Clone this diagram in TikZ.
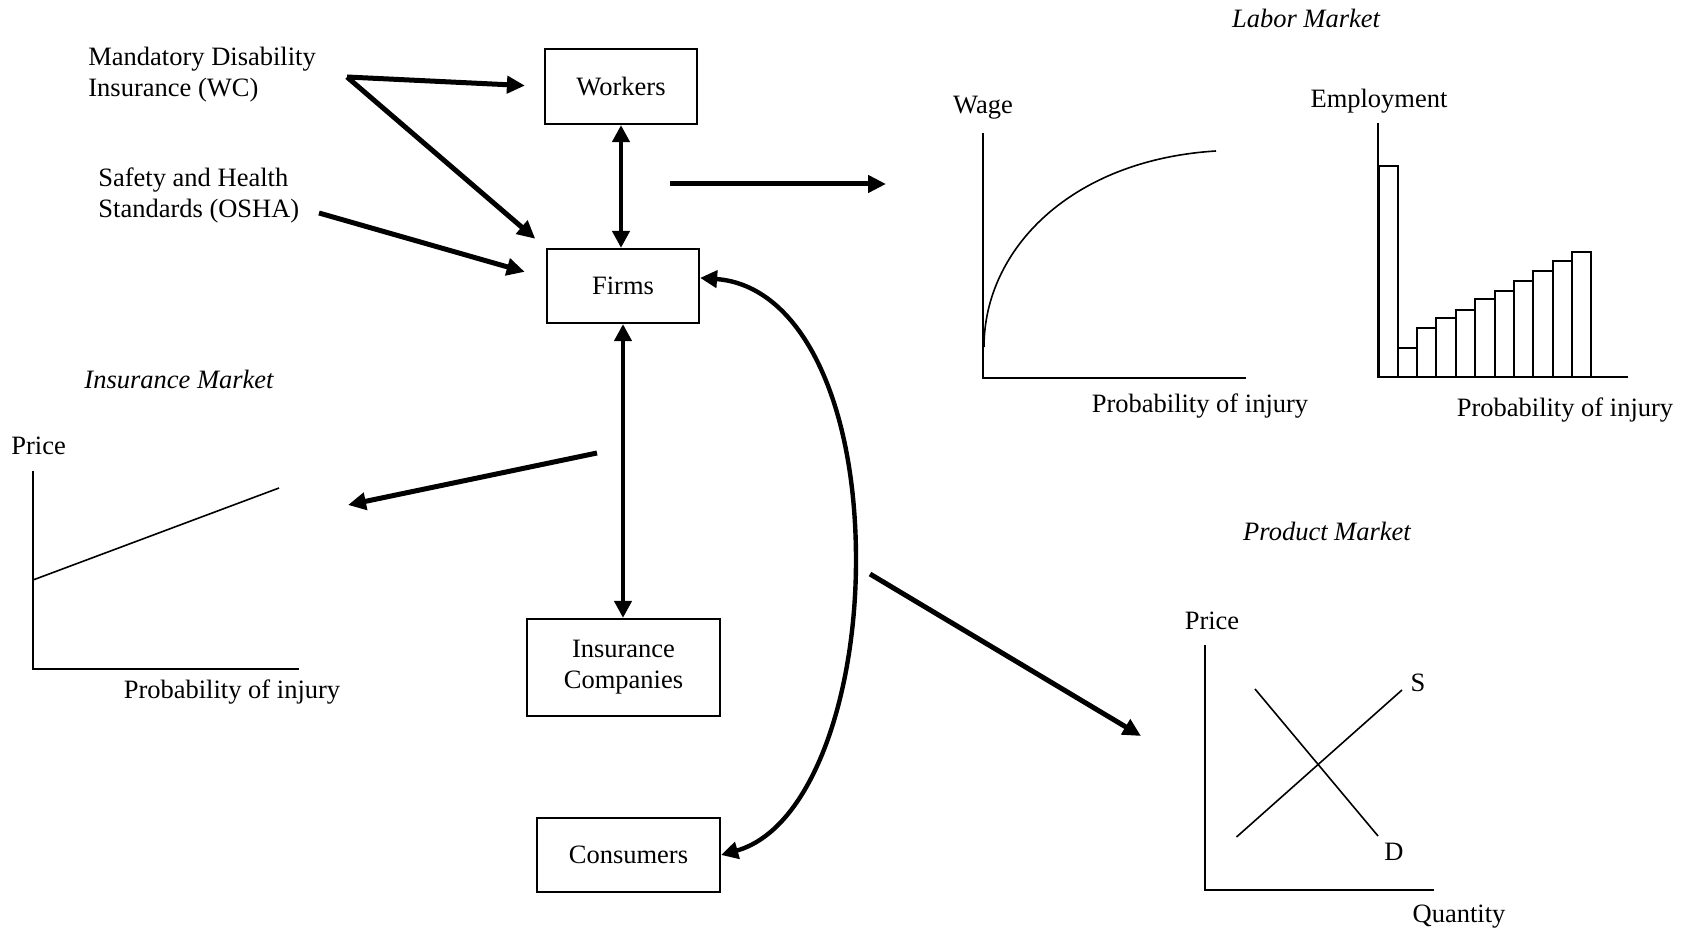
\documentclass[tikz,border=0pt]{standalone}
\usepackage{fontspec}
\setmainfont{Liberation Serif}
\usetikzlibrary{arrows.meta,calc}
\begin{document}
\begin{tikzpicture}[x=0.5pt,y=-0.5pt,
  every node/.style={font=\fontsize{13.25pt}{15.5pt}\selectfont, inner sep=0pt},
  lbl/.style={text height=0.68em, text depth=0.2em, yshift=-2.2pt},
  ttl/.style={lbl, font=\fontsize{13.25pt}{15.5pt}\selectfont\itshape},
  box/.style={draw, line width=1.1pt, align=center},
  conn/.style={line width=2.5pt, -{Triangle[length=9pt,width=8.5pt]}},
  dconn/.style={line width=2.2pt, {Triangle[length=8.5pt,width=8.5pt]}-{Triangle[length=8.5pt,width=8.5pt]}},
  axisline/.style={line width=1pt},
  plotline/.style={line width=0.8pt},
  barbox/.style={line width=1.1pt},
]
\useasboundingbox (0,0) rectangle (1688,930);

% boxes
\node[box, minimum width=76pt, minimum height=37.5pt] (W) at (621,86.5) {Workers};
\node[box, minimum width=76pt, minimum height=37pt] (F) at (623,286) {Firms};
\node[box, minimum width=96.5pt, minimum height=48.5pt] (I) at (623.5,667.5) {Insurance\\Companies};
\node[box, minimum width=91.5pt, minimum height=37pt] (C) at (628.5,855) {Consumers};

% policy texts
\node[align=left, anchor=west] (mdi) at (88,75) {Mandatory Disability\\Insurance (WC)};
\node[align=left, anchor=west] (osha) at (98,195) {Safety and Health\\Standards (OSHA)};

\coordinate (mdiout) at (347,77);
\coordinate (oshaout) at (319,213);
\coordinate (laborA) at (670,184);
\coordinate (laborB) at (886,184);
\coordinate (insA) at (597,453);
\coordinate (insB) at (348,505);
\coordinate (prodA) at (870,574);
\coordinate (prodB) at (1141,736);

% connectors
\draw[conn, shorten >=9.5pt] (mdiout) -- (W.west);
\draw[conn, shorten >=7pt] (mdiout) -- (F.north west);
\draw[conn, shorten >=11pt] (oshaout) -- (F.174);
\draw[dconn] (W.south) -- (W.south |- F.north);
\draw[dconn] (F.south) -- (F.south |- I.north);
\draw[conn] (laborA) -- (laborB);
\draw[conn] (insA) -- (insB);
\draw[conn] (prodA) -- (prodB);
\draw[dconn] (C.east) .. controls (810,830) and (856,700) .. (856,560)
  .. controls (856,400) and (800,285) .. (F.6);

% insurance market
\node[ttl] (insT) at (179,379) {Insurance Market};
\node[lbl, anchor=west] (insP) at (11,445) {Price};
\draw[axisline] (33,471) -- (33,669) -- (299,669);
\draw[plotline] (33,580) -- (279,488);
\node[lbl] (insX) at (232,689) {Probability of injury};

% labor market
\node[ttl] (labT) at (1306,18) {Labor Market};
\node[lbl] (wageL) at (983,104) {Wage};
\draw[axisline] (983,133) -- (983,378) -- (1246,378);
\draw[plotline] (984,347) .. controls (984,250) and (1070,160) .. (1216,151);
\node[lbl] (wageX) at (1200,403) {Probability of injury};

\node[lbl] (empL) at (1379,98) {Employment};
\draw[axisline] (1378,123) -- (1378,377) -- (1628,377);
\foreach \xa/\xb/\t in {1379/1398/166, 1398/1417/348, 1417/1436/328, 1436/1456/318,
  1456/1475/310, 1475/1495/299, 1495/1514/291, 1514/1533/281, 1533/1553/271,
  1553/1572/261, 1572/1591/252}
  \draw[barbox] (\xa,377) rectangle (\xb,\t);
\node[lbl] (empX) at (1565,407) {Probability of injury};

% product market
\node[ttl] (prodT) at (1327,531) {Product Market};
\node[lbl] (prodP) at (1212,620) {Price};
\draw[axisline] (1205,645) -- (1205,890) -- (1434,890);
\draw[plotline] (1236.5,837) -- (1402,690);
\draw[plotline] (1255,689) -- (1378,836);
\node[lbl] (sL) at (1418,682) {S};
\node[lbl] (dL) at (1394,851) {D};
\node[lbl] (qL) at (1459,913) {Quantity};
\end{tikzpicture}
\end{document}
